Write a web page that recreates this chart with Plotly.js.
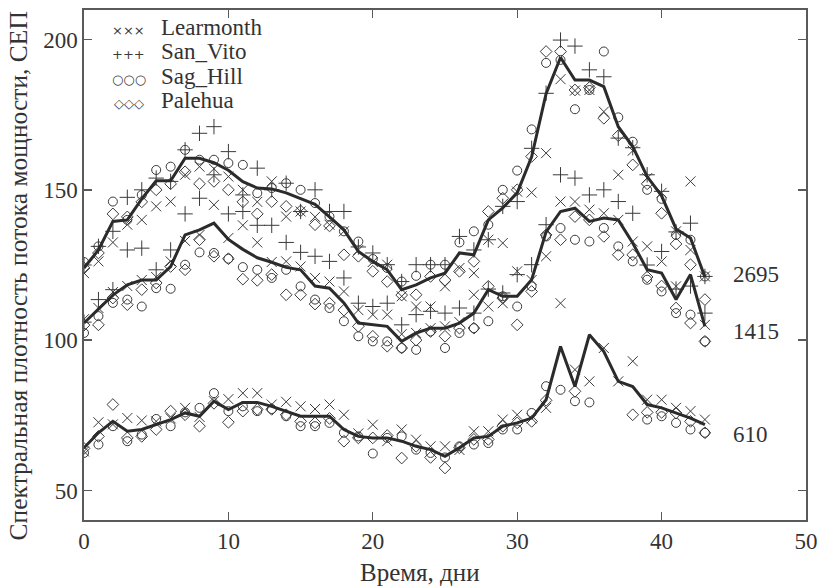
<!DOCTYPE html>
<html>
<head>
<meta charset="utf-8">
<script src="https://cdn.plot.ly/plotly-3.0.1.min.js"></script>
<style>html,body{margin:0;padding:0;background:#fff;}#chart{width:818px;height:588px;}</style>
</head>
<body>
<div id="chart"></div>
<script>
// Days
const days = [0,1,2,3,4,5,6,7,8,9,10,11,12,13,14,15,16,17,18,19,20,21,22,23,24,25,26,27,28,29,30,31,32,33,34,35,36,37,38,39,40,41,42,43];

// Mean curves (2695, 1415, 610 MHz)
const line2695 = [124,130,139.5,140,147,153,153,160.5,160.5,159,156.5,152.7,150.6,150.3,149,147,145.2,141,136.7,129.5,126.2,123.4,116.8,118.4,120.7,122.3,129,128.4,140,144,149,161,182,194,186.5,186.5,184.3,171,164.4,154.4,148,137,134,121];
const line1415 = [105.7,110.3,115,118.4,120,120,124.5,135,136.7,138.9,133.5,130.2,127.4,125.9,124.2,123.4,118,117.3,112.4,105.7,105.1,104.6,99.6,102.4,104,104,105.7,109,116.8,114.6,114.6,120.1,136,142.8,143.9,139.5,140.6,140,132.3,123.4,122.3,113.5,121.8,104.6];
const line610 = [64.2,69.2,73,69.7,70.3,71.9,73.6,75.8,74.7,79.7,76.9,79.3,79.3,78,76.3,74.7,74.7,74.7,70.3,68,67.5,67.5,66.4,64.7,63.6,61.4,64.2,67.5,68,71.4,72.5,74.1,80.2,97.9,84.6,101.8,96.2,86.3,84.6,78.6,77.5,75.8,74.1,71.9];

// Learmonth
const lear2695 = [122.3,126.2,132.5,138.4,140,144.5,146.1,155,157.7,157,154.4,150,146,152.8,141.1,142.8,141,138.4,136.2,130,126,125.1,114.6,111.2,111.2,117.9,124,122.3,133.4,132.3,149.4,149.1,162.2,186.8,183,183.2,176,155,163,153.9,149,136.2,152.8,121.2];
const lear1415 = [107,110.7,116,118,120,121,126.2,133,135,145,134,138.2,132.5,126,126.2,124.5,120.7,119.5,116.2,110,108.5,108.5,102,102.4,104,104.6,106,115.1,111.2,112.3,122.9,120,127.9,146.1,146.1,143.4,142.2,140,132.8,131.2,126.2,117.9,130,105.1];
const lear610 = [63,72.7,72,74.1,73.3,73,74,77.5,74.5,79.7,80.4,82.4,82.4,78.6,79.5,78,77.1,78.6,75.2,69,71.9,66.4,70.3,66.9,64.7,64.7,63.5,69.7,69.7,73.6,75.2,74,77.5,112.3,90.2,86.3,97.4,86.3,93,80.2,80.2,77.5,76.4,73.6];

// San_Vito
const sv2695 = [125,131.2,136.2,147.5,150,153.9,152.8,163.3,168.8,171,162.7,148.3,157.2,150,152.2,142.8,150,142.8,142.8,131,129,125.1,119.5,125.1,125.1,125.1,134.5,130,133.4,144.5,146.1,163.8,182.1,199.8,197.8,189.9,187.6,167.2,164,155,149.5,136,138.9,121.2];
const sv1415 = [106,113.5,116.8,130,130.6,123.4,130,142,147.2,155,142,142.8,138.2,138.2,132.5,129.2,127.9,126.2,120.7,112.3,111.2,112.3,105.1,108.5,109.6,109,110.7,109,117,115.7,121.8,125.1,138.4,155,153.9,148.3,150,146.1,142.2,125,129.5,117,118,109];

// Sag_Hill
const sh2695 = [126,131.2,146.1,140,148.3,156.6,157.7,163.3,160,160,158.9,158.3,148.9,150.6,152.2,150,145.6,141.1,136.2,132.8,127,124,119.5,121.4,125.1,125.1,132.5,136.2,138.4,150,156.4,170.1,192.2,193.2,176.8,183.2,196,174.1,166,150,147,135,133.4,121.2];
const sh1415 = [102.4,108,112.4,113.5,111.2,117.3,117.1,125.1,129.2,129,127.1,124.3,123.4,120.7,123.4,117.9,113.5,110.7,106.3,101.3,99.6,99.6,97.4,96.8,102.9,97.4,102.4,104,106.3,114.6,111.2,117.9,134.5,137.3,133.4,132.8,137.3,131.2,126.2,120.1,116.2,109,108.5,99.6];
const sh610 = [62.5,65.3,71.4,66.4,68.6,73.8,71.4,76,77.5,82.4,76.4,78,76.4,77.1,74.7,71.4,71.4,72.5,69.2,68,62.3,67.5,68,63.6,62.5,61,64.7,65.3,65.8,70.3,70.3,75.8,84.7,83.5,79.7,79.3,null,null,null,73.6,74.7,72.5,70.3,69.2];

// Palehua
const pa2695 = [124,129,142,141,146,150,152,156,152,152.8,150,146,142,146.1,144.5,143,138.4,138,128.4,127.9,122.9,119.5,115,115.1,121.2,120,122.9,126.2,142.8,147.2,150,161.1,196,196,183.2,184,173.8,168,158.3,152,142.2,132,125.1,113.5];
const pa1415 = [105,105.1,114,111.8,116.8,119,124.5,123.4,133.4,127.9,127.1,120.3,119.9,121.8,115.1,115.1,112,112.3,110,104.6,101.3,98,97.4,100,102.9,101.3,104,104,117.9,114,105.1,116.2,135,133.4,141.1,140,134.5,128.4,128.4,121,118,110.7,105.7,99.6];
const pa610 = [64,68,78.6,67.5,68,70.3,76.4,75.2,71.4,79,72.7,76.4,77,77,75.2,73,72.5,74,66.4,67.5,67.5,68.3,60.8,64.7,61,57.5,64.2,67,67,71.4,72.5,73,80,null,83,null,null,null,75.2,76,76,75.8,73,69.2];

const stations = ["Learmonth", "San_Vito", "Sag_Hill", "Palehua"];
const legendGlyphs = ["×××", "+++", "○○○", "◇◇◇"];
const curveLabels = ["2695", "1415", "610"];
const xTitle = "Время, дни";
const yTitle = "Спектральная плотность потока мощности, СЕП";

const markerColor = "#3a3a3a";
function pts(y, symbol, size, name) {
  return {x: days, y: y, type: "scatter", mode: "markers", name: name, showlegend: false, hoverinfo: "x+y+name",
    marker: {symbol: symbol, size: size, color: markerColor, line: {color: markerColor, width: 1}}};
}
function curve(y, name) {
  return {x: days, y: y, type: "scatter", mode: "lines", name: name, showlegend: false,
    line: {color: "#2b2b2b", width: 3}};
}
const traces = [
  pts(lear2695, "x-thin-open", 10, "Learmonth"), pts(lear1415, "x-thin-open", 10, "Learmonth"), pts(lear610, "x-thin-open", 10, "Learmonth"),
  pts(sv2695, "cross-thin-open", 11, "San_Vito"), pts(sv1415, "cross-thin-open", 11, "San_Vito"),
  pts(sh2695, "circle-open", 9, "Sag_Hill"), pts(sh1415, "circle-open", 9, "Sag_Hill"), pts(sh610, "circle-open", 9, "Sag_Hill"),
  pts(pa2695, "diamond-open", 9, "Palehua"), pts(pa1415, "diamond-open", 9, "Palehua"), pts(pa610, "diamond-open", 9, "Palehua"),
  curve(line2695, "2695"), curve(line1415, "1415"), curve(line610, "610")
];

const serif = "Liberation Serif";
const annotations = [];
const rowY = [0.9657, 0.9178, 0.870, 0.8222];
stations.forEach((s, i) => {
  annotations.push({xref: "paper", yref: "paper", x: 0.062, y: rowY[i] - 0.006, text: legendGlyphs[i], showarrow: false,
    xanchor: "center", yanchor: "middle", font: {family: "DejaVu Sans", size: 13, color: "#3a3a3a"}});
  annotations.push({xref: "paper", yref: "paper", x: 0.104, y: rowY[i], text: s, showarrow: false,
    xanchor: "left", yanchor: "middle", font: {family: serif, size: 23, color: "#333"}});
});
const labelY = [121.7, 102.8, 68.5];
curveLabels.forEach((t, i) => {
  annotations.push({xref: "x", yref: "y", x: 44.8, y: labelY[i], text: t, showarrow: false,
    xanchor: "left", yanchor: "middle", font: {family: serif, size: 23, color: "#333"}});
});
// axis titles (placed as in the reference, slightly off the plot centre)
annotations.push({xref: "paper", yref: "paper", x: 0.465, y: -0.102, text: xTitle, showarrow: false,
  xanchor: "center", yanchor: "middle", font: {family: serif, size: 25, color: "#333"}});
annotations.push({xref: "paper", yref: "paper", x: -0.091, y: 0.478, text: yTitle, showarrow: false, textangle: -90,
  xanchor: "center", yanchor: "middle", font: {family: serif, size: 25.5, color: "#333"}});

const axisCommon = {showline: true, linecolor: "#5a5a5a", linewidth: 1.6, mirror: "ticks", ticks: "inside", ticklen: 8,
  tickwidth: 1.4, tickcolor: "#5a5a5a", showgrid: false, zeroline: false, tickfont: {family: serif, size: 23, color: "#333"}};

const layout = {
  width: 818, height: 588,
  margin: {l: 84, r: 12, t: 10, b: 68},
  paper_bgcolor: "#fff", plot_bgcolor: "#fff",
  showlegend: false,
  font: {family: serif},
  xaxis: Object.assign({}, axisCommon, {range: [0, 50], tickvals: [0, 10, 20, 30, 40, 50]}),
  yaxis: Object.assign({}, axisCommon, {range: [40.2, 209.8], tickvals: [50, 100, 150, 200]}),
  annotations: annotations
};

Plotly.newPlot("chart", traces, layout, {staticPlot: true, displayModeBar: false});
</script>
</body>
</html>
